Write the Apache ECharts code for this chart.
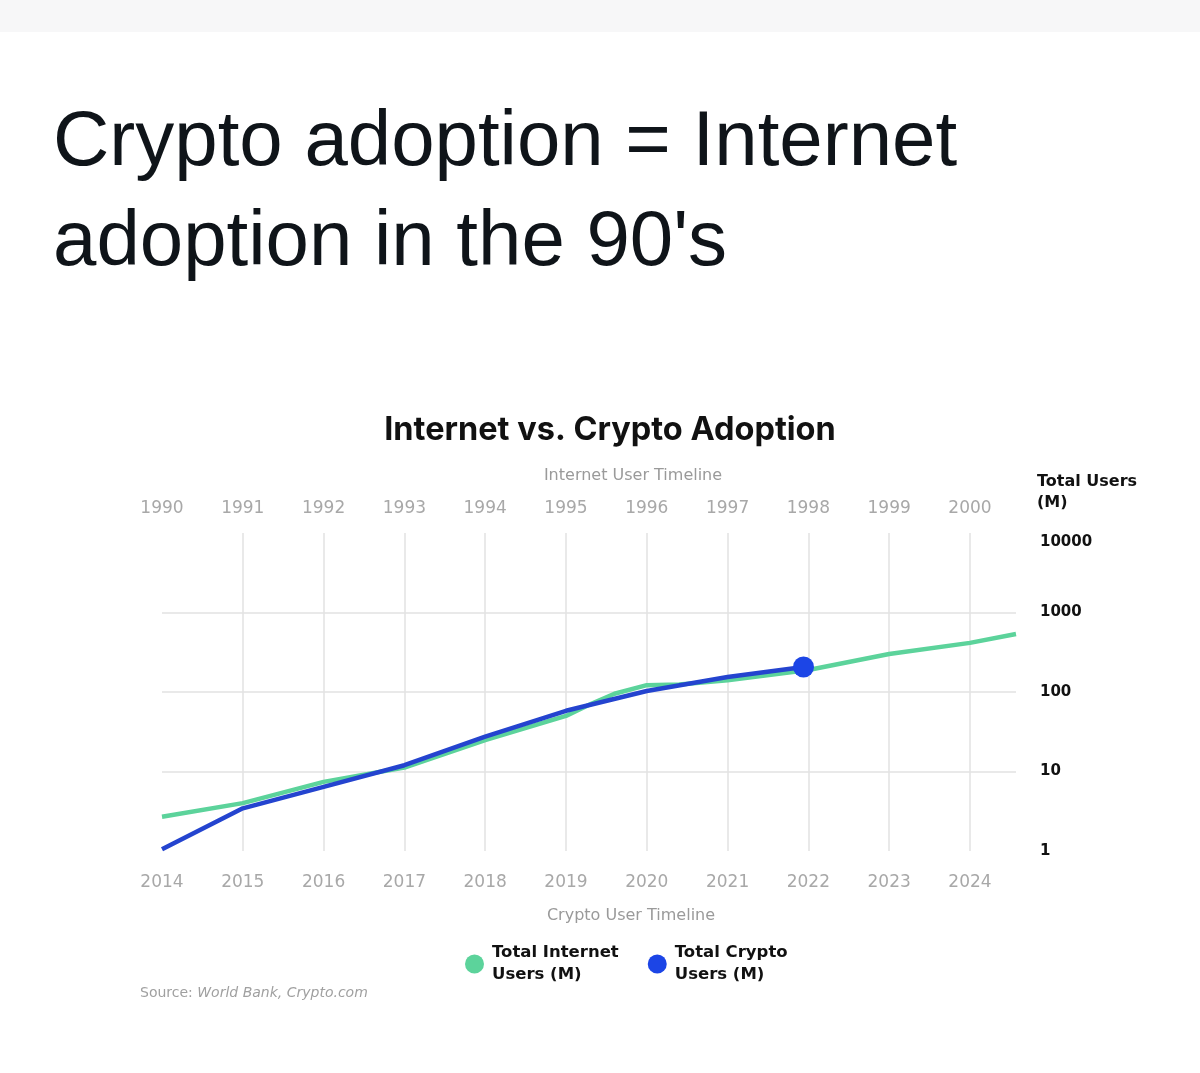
<!DOCTYPE html>
<html><head><meta charset="utf-8">
<script src="https://cdn.jsdelivr.net/npm/echarts@6/dist/echarts.min.js"></script>
<style>html,body{margin:0;padding:0;background:#fff}#c{width:1200px;height:1073px}</style>
</head><body><div id="c"></div>
<script>
// Internet users (M), plotted on the top (1990s) timeline
const internetYears = [1990, 1991, 1992, 1993, 1994, 1995, 1995.3, 1995.6, 1996, 1996.4, 1997, 1998, 1999, 2000, 2000.57];
const internetUsers = [2.7, 4.0, 7.4, 11.2, 24.9, 50, 70, 95, 122, 124, 140, 189, 300, 415, 536];
// Crypto users (M), plotted on the bottom (2014-2024) timeline
const cryptoYears = [2014, 2015, 2016, 2017, 2018, 2019, 2020, 2021, 2021.94];
const cryptoUsers = [1.05, 3.44, 6.4, 12, 27.4, 58, 103, 154, 206];
const seriesNames = ['Total Internet\nUsers (M)', 'Total Crypto\nUsers (M)'];

const GREEN = '#5cd39b';
const BLUE_LINE = '#2444cf';
const BLUE_DOT = '#1c45e6';

const chart = echarts.init(document.getElementById('c'));

const greenData = internetYears.map((y, i) => [y, internetUsers[i]]);
const blueData = cryptoYears.map((y, i) => {
  const p = { value: [y, cryptoUsers[i]] };
  if (i === cryptoYears.length - 1) { p.symbol = 'circle'; p.symbolSize = 21; }
  return p;
});

const yearFmt = v => Number.isInteger(v) ? String(v) : '';

chart.setOption({
  animation: false,
  backgroundColor: '#ffffff',
  graphic: [
    { type: 'rect', shape: { x: 0, y: 0, width: 1200, height: 32 }, style: { fill: '#f7f7f8' } },
    { type: 'text', style: { x: 53, y: 143, text: 'Crypto adoption = Internet', fill: '#0f1419',
      font: '400 78px "Liberation Sans", Arial, sans-serif', verticalAlign: 'middle' } },
    { type: 'text', style: { x: 53, y: 243, text: "adoption in the 90's", fill: '#0f1419',
      font: '400 78px "Liberation Sans", Arial, sans-serif', verticalAlign: 'middle' } },
    { type: 'text', style: { x: 610, y: 430, text: 'Internet vs. Crypto Adoption', fill: '#111',
      font: '700 32.5px Inter, Roboto, sans-serif', align: 'center', verticalAlign: 'middle' } },
    { type: 'text', style: { x: 633, y: 476, text: 'Internet User Timeline', fill: '#9a9a9a',
      font: '400 16px "DejaVu Sans", sans-serif', align: 'center', verticalAlign: 'middle' } },
    { type: 'text', style: { x: 631, y: 916, text: 'Crypto User Timeline', fill: '#9a9a9a',
      font: '400 16px "DejaVu Sans", sans-serif', align: 'center', verticalAlign: 'middle' } },
    { type: 'text', style: { x: 1037, y: 492, text: 'Total Users\n(M)', fill: '#111', lineHeight: 21,
      font: '700 16px "DejaVu Sans", sans-serif', verticalAlign: 'middle' } },
    { type: 'text', style: { x: 140, y: 993, fill: '#a0a0a0', verticalAlign: 'middle',
      text: '{a|Source: }{b|World Bank, Crypto.com}',
      rich: { a: { fontFamily: '"DejaVu Sans"', fontSize: 14, fill: '#a0a0a0' },
              b: { fontFamily: '"DejaVu Sans"', fontSize: 14, fontStyle: 'italic', fill: '#a0a0a0' } } } }
  ],
  grid: { left: 162, right: 184, top: 533, bottom: 222 },
  legend: {
    left: 460, top: 937, itemWidth: 19, itemHeight: 19, itemGap: 29,
    data: [{ name: seriesNames[0], icon: 'circle' }, { name: seriesNames[1], icon: 'circle' }],
    textStyle: { fontFamily: '"DejaVu Sans", sans-serif', fontWeight: 'bold', fontSize: 16.5, lineHeight: 22, color: '#111',
      padding: [0, 0, 0, 3] }
  },
  xAxis: [
    {
      type: 'value', position: 'top', min: 1990, max: 2000.57, interval: 1,
      axisLine: { show: false }, axisTick: { show: false },
      axisLabel: { formatter: yearFmt, showMaxLabel: false, margin: 16, color: '#a8a8a8',
        fontFamily: '"DejaVu Sans", sans-serif', fontSize: 17 },
      splitLine: { show: true, showMinLine: false, showMaxLine: false, lineStyle: { color: '#e2e2e2', width: 1.5 } }
    },
    {
      type: 'value', position: 'bottom', min: 2014, max: 2024.57, interval: 1,
      axisLine: { show: false }, axisTick: { show: false },
      axisLabel: { formatter: yearFmt, showMaxLabel: false, margin: 23, color: '#a8a8a8',
        fontFamily: '"DejaVu Sans", sans-serif', fontSize: 17 },
      splitLine: { show: false }
    }
  ],
  yAxis: {
    type: 'log', logBase: 10, min: 1, max: 10000, position: 'right',
    axisLine: { show: false }, axisTick: { show: false },
    axisLabel: {
      margin: 24, align: 'left',
      formatter: v => v >= 10000 ? '{t|' + v + '}' : '{n|' + v + '}',
      rich: {
        n: { fontFamily: '"DejaVu Sans", sans-serif', fontWeight: 'bold', fontSize: 15, color: '#111' },
        t: { fontFamily: '"DejaVu Sans", sans-serif', fontWeight: 'bold', fontSize: 15, color: '#111', padding: [18, 0, 0, 0] }
      }
    },
    splitLine: { show: true, showMinLine: false, showMaxLine: false, lineStyle: { color: '#e2e2e2', width: 1.5 } }
  },
  series: [
    {
      name: seriesNames[0], type: 'line', xAxisIndex: 0, data: greenData,
      showSymbol: false, symbol: 'none',
      itemStyle: { color: GREEN }, lineStyle: { color: GREEN, width: 4.5 }, z: 2
    },
    {
      name: seriesNames[1], type: 'line', xAxisIndex: 1, data: blueData,
      symbol: 'none', showSymbol: true,
      itemStyle: { color: BLUE_DOT }, lineStyle: { color: BLUE_LINE, width: 4.5 }, z: 3
    }
  ]
});
</script></body></html>
